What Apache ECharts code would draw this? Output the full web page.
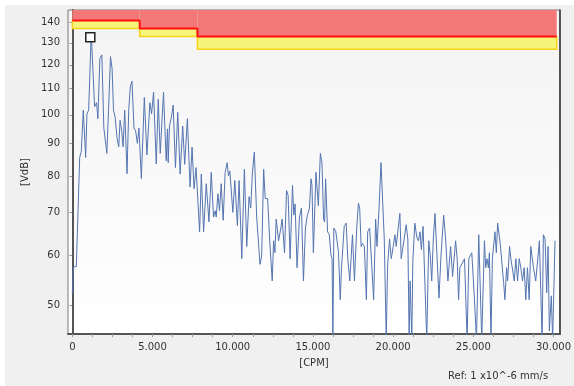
<!DOCTYPE html>
<html>
<head>
<meta charset="utf-8">
<script src="https://cdn.jsdelivr.net/npm/echarts@6/dist/echarts.min.js"></script>
<style>
html,body{margin:0;padding:0;background:#fff;}
#chart{width:574px;height:386px;background:#f0f0f0;box-shadow:inset 5px 5px 0 #fff;}
</style>
</head>
<body>
<div id="chart"></div>
<script>
// ---- data ----
var freqCPM = [0,62,248,459,558,682,831,911,1017,1178,1389,1513,1593,1717,1841,1965,2046,2151,2257,2381,2480,2567,2666,2790,2895,2976,3081,3162,3267,3410,3515,3621,3720,3844,3949,4055,4154,4303,4489,4650,4836,4941,5065,5233,5357,5481,5685,5853,5933,5977,6057,6181,6287,6429,6572,6721,6882,7006,7173,7341,7465,7589,7713,7812,7936,8041,8184,8351,8519,8661,8804,8909,8971,9077,9176,9281,9405,9529,9653,9734,9821,9901,10007,10131,10292,10397,10565,10726,10875,11017,11123,11222,11346,11495,11594,11699,11805,11929,12028,12177,12301,12462,12549,12629,12710,12859,13001,13082,13231,13355,13454,13578,13727,13807,13888,14012,14161,14285,14409,14533,14657,14781,14880,14942,15029,15190,15339,15463,15562,15667,15729,15791,15915,16021,16120,16194,16244,16306,16430,16597,16703,16783,16864,16951,17013,17075,17174,17298,17465,17589,17732,17837,17918,18005,18085,18209,18333,18414,18538,18662,18786,18910,18997,19121,19245,19344,19449,19573,19654,19778,19883,20007,20113,20193,20317,20423,20503,20609,20689,20813,20919,21000,21061,21167,21229,21353,21477,21576,21681,21762,21867,21973,22097,22221,22320,22407,22506,22611,22735,22859,22983,23151,23275,23417,23585,23709,23895,23994,24081,24161,24285,24453,24614,24719,24825,24905,25073,25197,25339,25525,25693,25773,25854,25941,26003,26102,26189,26269,26350,26437,26517,26598,26685,26784,26889,26970,27075,27137,27261,27342,27447,27553,27652,27757,27863,27962,28067,28173,28272,28377,28483,28582,28749,28892,28997,29121,29202,29289,29369,29475,29574,29661,29741,29865,29946,30095];
var levelVdB = [52,57.5,57.5,85.6,87.5,101.7,85.6,100.4,101.7,134.9,103,104.5,98.6,122.8,124.4,95.3,94.7,86.9,101.7,123.6,118.2,101.7,99.3,91.8,89,98,94.3,89,101.7,80.7,101.7,111,113,95.3,94.3,90.1,95.3,79.3,106.5,86.4,104.5,100.4,108.6,83.6,105.8,86.9,108.6,84.6,95,84,96,99.2,103.6,82.5,100.9,80.6,96,83.5,98.6,76.9,88.9,76.4,82.5,82,65.3,80.6,65.3,77.8,67.7,81.1,68.9,70.5,68.9,75,70.5,77.8,68.1,81.1,84,80.1,81.5,81.1,70.1,78.7,66.8,78.7,59.2,82,61.9,74.2,71.2,80.6,87.3,68.9,69.4,58,59.8,82,73.7,73.7,63.6,54.6,63.2,60.5,68.4,63.2,66.2,68.4,60.5,75.9,74.6,59.2,77.3,69.4,72.3,57.3,68.9,71.2,54.6,66.2,69.4,71,79.2,77.3,60.5,81.1,71.8,86.9,84,68.4,67.7,79.2,65.3,64.6,60.1,59.2,44,66.2,65.3,60.5,51,57.3,57.3,66.6,66.2,67.4,59.2,54.6,64.6,54.6,66.2,72.5,71,61.9,62.6,61.9,51,65.3,66.2,66.2,51,68.4,61.9,71,84,83.5,63.6,44,57.6,63.6,59.2,61.9,64.6,61.9,66.2,69.8,59.2,59.2,63.6,67,63.6,44,54.6,44,58.6,67.4,64,63.2,65.3,61.2,66.6,66.6,44,63.2,59.8,54.6,63.6,69.8,69.4,51.3,59.8,69.4,63.6,54.6,61.9,55.5,63.2,59.2,51,57.3,57.3,59.2,44,59.2,59.2,60.5,51,44,64.6,44,63.2,57.3,59.2,57.3,60.5,44,59.2,59.2,65.3,60.5,67.4,67.7,62.3,61.9,54.3,51,57.3,54.6,61.9,59.2,59.2,54.6,59.2,54.6,59.2,57.3,54.6,57.3,51,57.3,51,61.9,57.3,54.6,54.6,63.2,63.2,44,64.6,63.6,52.3,61.9,45.5,51.7,44,63.2];
var peakMarker = [1120, 132.6];
var alarmBreaks = [0, 4200, 7800, 30200];
var dangerLevels = [141, 137, 133];
var warningLevels = [137, 133, 127];
var yTickLabels = [50, 60, 70, 80, 90, 100, 110, 120, 130, 140];
var xTickLabels = [0, 5000, 10000, 15000, 20000, 25000, 30000];
var xMinorTicks = [0,1250,2500,3750,5000,6250,7500,8750,10000,11250,12500,13750,15000,16250,17500,18750,20000,21250,22500,23750,25000,26250,27500,28750,30000];
var yMin = 45, yMax = 146.5;

// ---- build ----
var spectrum = freqCPM.map(function(f, i){ return [f, levelVdB[i]]; });
var redAreas = [], yellowAreas = [], redLine = [];
for (var i = 0; i < dangerLevels.length; i++) {
  redAreas.push([{coord:[alarmBreaks[i], dangerLevels[i]]},{coord:[alarmBreaks[i+1], yMax]}]);
  yellowAreas.push([{coord:[alarmBreaks[i], warningLevels[i]]},{coord:[alarmBreaks[i+1], dangerLevels[i]]}]);
  redLine.push([alarmBreaks[i], dangerLevels[i]]);
  redLine.push([alarmBreaks[i+1], dangerLevels[i]]);
}
function fmtThousands(v){ return String(v).replace(/\B(?=(\d{3})+(?!\d))/g, '.'); }

var FONT = 'DejaVu Sans';
var chart = echarts.init(document.getElementById('chart'), null, {renderer:'canvas'});
chart.setOption({
  backgroundColor: 'transparent',
  animation: false,
  textStyle: {fontFamily: FONT},
  grid: {
    left: 68, top: 10, right: 11, bottom: 52,
    show: true,
    borderColor: '#7a7a7a', borderWidth: 1,
    backgroundColor: {type:'linear', x:0, y:0, x2:0, y2:1,
      colorStops:[{offset:0, color:'#f3f3f3'},{offset:1, color:'#ffffff'}]}
  },
  xAxis: {
    type: 'value', min: -270, max: 30400,
    name: '[CPM]', nameLocation: 'middle', nameGap: 24,
    nameTextStyle: {color:'#333', fontSize:10, fontFamily: FONT},
    splitLine: {show:false},
    axisLine: {show:true, onZero:false, lineStyle:{color:'#555', width:2}},
    axisTick: {show:true, length:3, lineStyle:{color:'#999'}, customValues: xMinorTicks},
    axisLabel: {color:'#333', fontSize:10, margin:8, customValues: xTickLabels,
      formatter: function(v){ return fmtThousands(v); }}
  },
  yAxis: [{
    type: 'log', logBase: 10, min: yMin, max: yMax,
    name: '[VdB]', nameLocation: 'middle', nameGap: 36, nameRotate: 90,
    nameTextStyle: {color:'#333', fontSize:10, fontFamily: FONT},
    splitLine: {show:false},
    axisLine: {show:true, lineStyle:{color:'#555', width:2}},
    axisTick: {show:true, length:3, lineStyle:{color:'#999'}, customValues: yTickLabels},
    axisLabel: {color:'#333', fontSize:10, margin:8, customValues: yTickLabels}
  }, {
    type: 'log', logBase: 10, min: yMin, max: yMax, position: 'right',
    splitLine: {show:false},
    axisLine: {show:true, lineStyle:{color:'#333', width:1.5}},
    axisTick: {show:false}, axisLabel: {show:false}
  }],
  graphic: [{
    type:'text', left: 448, top: 371,
    style:{text:'Ref: 1 x10^-6 mm/s', fill:'#333', font:'10px "DejaVu Sans"'}
  }],
  series: [
    {
      type:'line', data: [], silent:true,
      markArea: {silent:true, itemStyle:{color:'#f5f57a', borderColor:'#f7d21a', borderWidth:1.5},
        data: yellowAreas}
    },
    {
      type:'line', data: [], silent:true,
      markArea: {silent:true, itemStyle:{color:'#f47878', borderWidth:0},
        data: redAreas}
    },
    {
      type:'line', data: redLine, symbol:'none', silent:true,
      lineStyle:{color:'#ff1010', width:2}
    },
    {
      type:'line', data: spectrum, symbol:'none', clip:true,
      lineStyle:{color:'#5474b0', width:1},
      markPoint: {
        symbol:'rect', symbolSize:9, silent:true,
        itemStyle:{color:'#ffffff', borderColor:'#222', borderWidth:1.5},
        label:{show:false},
        data:[{coord: peakMarker}]
      }
    }
  ]
});
</script>
</body>
</html>
